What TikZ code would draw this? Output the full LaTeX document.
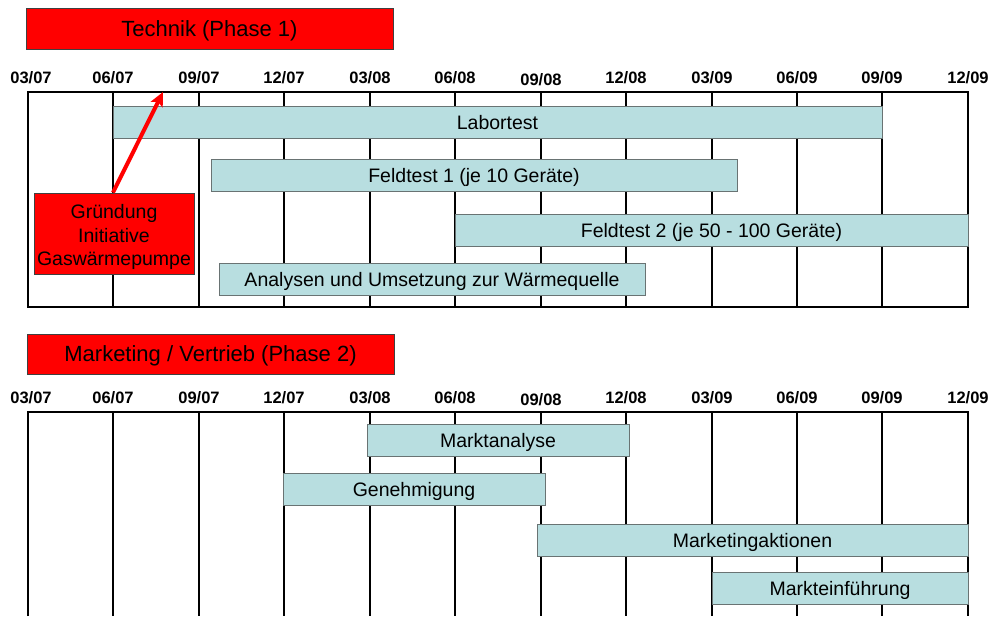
\documentclass[tikz,border=0pt]{standalone}
\usepackage{fontspec}
\setmainfont{Liberation Sans}
\usetikzlibrary{arrows.meta}
\definecolor{phasered}{RGB}{255,0,0}
\definecolor{taskfill}{RGB}{184,222,224}
\definecolor{taskline}{RGB}{105,115,115}
\tikzstyle{phasebox}=[draw=black!75, fill=phasered, line width=1pt, inner sep=0pt, text height=15.8pt, text depth=0pt, font=\fontsize{22}{26}\selectfont]
\tikzstyle{taskbar}=[draw=taskline, fill=taskfill, line width=1pt, inner sep=0pt, minimum height=32pt, text height=14pt, text depth=0pt, font=\fontsize{19.5}{23}\selectfont]
\tikzstyle{month}=[inner sep=0pt, font=\fontsize{16.5}{19}\selectfont\bfseries]
\tikzstyle{gridline}=[line width=1.5pt, black]

\begin{document}
\begin{tikzpicture}[x=1pt, y=-1pt]
    \useasboundingbox (0,0) rectangle (990,616);
% Technik (Phase 1)
    \node[phasebox, minimum width=367pt, minimum height=41pt] (technik) at (209.5,28.5) {Technik (Phase 1)};
    \node[month] (t0307) at (31,77.5) {03/07};
    \node[month] (t0607) at (113,77.5) {06/07};
    \node[month] (t0907) at (199,77.5) {09/07};
    \node[month] (t1207) at (284,77.5) {12/07};
    \node[month] (t0308) at (370,77.5) {03/08};
    \node[month] (t0608) at (455,77.5) {06/08};
    \node[month] (t0908) at (541,79.5) {09/08};
    \node[month] (t1208) at (626,77.5) {12/08};
    \node[month] (t0309) at (712,77.5) {03/09};
    \node[month] (t0609) at (797,77.5) {06/09};
    \node[month] (t0909) at (882,77.5) {09/09};
    \node[month] (t1209) at (968,77.5) {12/09};
    \draw[gridline] (28,92) rectangle (968,307);
    \draw[gridline] (113,92) -- (113,307);
    \draw[gridline] (199,92) -- (199,307);
    \draw[gridline] (284,92) -- (284,307);
    \draw[gridline] (370,92) -- (370,307);
    \draw[gridline] (455,92) -- (455,307);
    \draw[gridline] (541,92) -- (541,307);
    \draw[gridline] (626,92) -- (626,307);
    \draw[gridline] (712,92) -- (712,307);
    \draw[gridline] (797,92) -- (797,307);
    \draw[gridline] (882,92) -- (882,307);
    \node[taskbar, minimum width=769pt] (labortest) at (497.5,122) {Labortest};
    \node[taskbar, minimum width=526pt] (feldtest1) at (474,175.5) {Feldtest 1 (je 10 Geräte)};
    \node[taskbar, minimum width=513pt] (feldtest2) at (711.5,230.5) {Feldtest 2 (je 50 - 100 Geräte)};
    \node[taskbar, minimum width=426pt] (analysen) at (432,279) {Analysen und Umsetzung zur Wärmequelle};
    \node[phasebox, minimum width=160pt, minimum height=81pt] (gruendung) at (114,233.5) {};
    \node[align=center, inner sep=0pt, font=\fontsize{19.5}{23.3}\selectfont] (gruendungtext) at (114,237) {Gründung\\Initiative\\Gaswärmepumpe};
    \coordinate (start) at (163,92);
    \draw[phasered, line width=4pt, -{Stealth[length=14pt, width=13pt, inset=3pt]}] ([xshift=-1pt]gruendung.north) -- (start);
% Marketing / Vertrieb (Phase 2)
    \node[phasebox, minimum width=367pt, minimum height=40pt] (marketing) at (210.5,354) {Marketing / Vertrieb (Phase 2)};
    \node[month] (m0307) at (31,397.5) {03/07};
    \node[month] (m0607) at (113,397.5) {06/07};
    \node[month] (m0907) at (199,397.5) {09/07};
    \node[month] (m1207) at (284,397.5) {12/07};
    \node[month] (m0308) at (370,397.5) {03/08};
    \node[month] (m0608) at (455,397.5) {06/08};
    \node[month] (m0908) at (541,399.5) {09/08};
    \node[month] (m1208) at (626,397.5) {12/08};
    \node[month] (m0309) at (712,397.5) {03/09};
    \node[month] (m0609) at (797,397.5) {06/09};
    \node[month] (m0909) at (882,397.5) {09/09};
    \node[month] (m1209) at (968,397.5) {12/09};
    \draw[gridline] (28,616) -- (28,412) -- (968,412) -- (968,616);
    \draw[gridline] (113,412) -- (113,616);
    \draw[gridline] (199,412) -- (199,616);
    \draw[gridline] (284,412) -- (284,616);
    \draw[gridline] (370,412) -- (370,616);
    \draw[gridline] (455,412) -- (455,616);
    \draw[gridline] (541,412) -- (541,616);
    \draw[gridline] (626,412) -- (626,616);
    \draw[gridline] (712,412) -- (712,616);
    \draw[gridline] (797,412) -- (797,616);
    \draw[gridline] (882,412) -- (882,616);
    \node[taskbar, minimum width=262pt] (marktanalyse) at (498,440.5) {Marktanalyse};
    \node[taskbar, minimum width=262pt] (genehmigung) at (414,489.5) {Genehmigung};
    \node[taskbar, minimum width=431pt] (aktionen) at (752.5,540) {Marketingaktionen};
    \node[taskbar, minimum width=256pt] (einfuehrung) at (840,588) {Markteinführung};
\end{tikzpicture}
\end{document}
